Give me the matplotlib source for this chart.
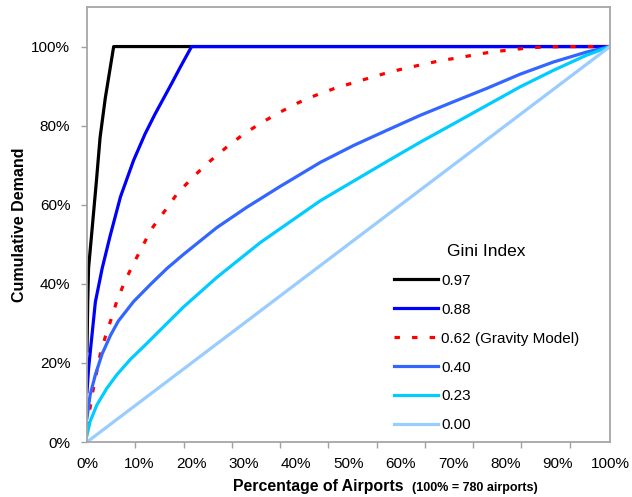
import numpy as np
import matplotlib
matplotlib.use("Agg")
import matplotlib.pyplot as plt

plt.rcParams["font.family"] = ["Liberation Sans", "DejaVu Sans"]

# courbes de Lorenz (% aéroports, % demande cumulée)
x_097 = [0, 0.13, 0.3, 0.85, 1.8, 2.5, 3.5, 5.1, 100]
y_097 = [23, 35, 44, 52, 66, 77, 87, 100, 100]

x_088 = [0, 0.3, 0.95, 1.6, 2.9, 4.4, 6.4, 8.9, 11.1, 13, 14.6, 16.2, 17.8, 20, 100]
y_088 = [12.7, 18.6, 27, 35.4, 43.9, 52, 62, 71.2, 77.9, 82.9, 86.8, 90.7, 94.7, 100, 100]

x_062 = [0, 0.5, 1.1, 2.5, 3.5, 4.6, 5.7, 7.1, 8.7, 10.5, 12.3, 14.8, 17.3,
         20.5, 23.5, 27, 30.2, 33.7, 36.9, 40.4, 43.6, 47.1, 50.8, 54.1,
         57.5, 60.8, 64.3, 67.8, 71.3, 74.4, 77.8, 81.3, 84.7, 88.1, 91.4, 100]
y_062 = [3.8, 8, 12.7, 22, 26.6, 31, 35.6, 40.2, 44.6, 49.2, 53.8, 58.3, 62.9,
         67.3, 71, 74.9, 78.1, 81, 83.4, 85.8, 87.6, 89.3, 90.8, 92.1,
         93.4, 94.5, 95.5, 96.5, 97.2, 98, 98.7, 99.2, 99.7, 99.9, 100, 100]

x_040 = [0, 0.6, 1.6, 2.9, 4.5, 6, 8.9, 12.1, 15.3, 18.5, 24.8, 30.6, 36.9,
         44.6, 51, 57.3, 63.7, 70, 76.4, 82.8, 89.2, 95.5, 100]
y_040 = [6.1, 11.9, 17, 22.3, 27, 30.6, 35.5, 39.8, 43.9, 47.5, 54.2, 59.4, 64.6,
         70.7, 75, 78.8, 82.6, 86, 89.4, 93, 96.1, 98.6, 100]

x_023 = [0, 0.6, 1.9, 3.8, 5.7, 8.3, 11.5, 14, 18.5, 24.8, 33.1, 44.6,
         51, 57.3, 63.7, 70, 76.4, 82.8, 89.2, 95.5, 100]
y_023 = [1.7, 5.2, 9.4, 13.6, 17, 20.9, 25, 28.3, 34.2, 41.6, 50.4, 61,
         66, 70.9, 75.8, 80.4, 85.1, 89.8, 94, 97.8, 100]

x_000 = [0, 50, 100]
y_000 = [0, 50, 100]

labels = ["0.97", "0.88", "0.62 (Gravity Model)", "0.40", "0.23", "0.00"]
x_labels = [f"{v}%" for v in range(0, 101, 10)]
y_labels = [f"{v}%" for v in range(0, 101, 20)]

fig = plt.figure(figsize=(6.32, 4.97), dpi=100)
ax = fig.add_axes([87 / 632, 1 - 442 / 497, 523 / 632, 435 / 497])

lw = 2.3
ax.plot(x_097, y_097, color="black", lw=lw, label=labels[0])
ax.plot(x_088, y_088, color="#0000FF", lw=lw, label=labels[1])
ax.plot(x_062, y_062, color="#FF0000", lw=lw, dashes=(1.7, 3.8), label=labels[2])
ax.plot(x_040, y_040, color="#3366FF", lw=lw, label=labels[3])
ax.plot(x_023, y_023, color="#00CCFF", lw=lw, label=labels[4])
ax.plot(x_000, y_000, color="#99CCFF", lw=lw, label=labels[5])

ax.set_xlim(0, 100)
ax.set_ylim(0, 110)

ax.set_xticks(range(0, 101, 10))
ax.set_xticklabels(x_labels)
ax.set_xticks(np.arange(11) * 72 / 780 * 100, minor=True)
ax.tick_params(axis="x", which="major", length=0, pad=11, labelsize=11)
ax.tick_params(axis="x", which="minor", length=4, width=1, color="#a0a0a0", direction="out")

ax.set_yticks(range(0, 101, 20))
ax.set_yticklabels(y_labels)
ax.tick_params(axis="y", length=4, width=1, color="#a0a0a0", direction="out", pad=8, labelsize=11)

for s in ax.spines.values():
    s.set_color("#a6a6a6")
    s.set_linewidth(1.3)

ax.set_ylabel("Cumulative Demand", fontsize=11.5, fontweight="bold", labelpad=3)
fig.text(233 / 632, 1 - 487 / 497, "Percentage of Airports", fontsize=11.4,
         fontweight="bold", va="center", ha="left")
fig.text(412 / 632, 1 - 488 / 497, "(100% = 780 airports)", fontsize=9,
         fontweight="bold", va="center", ha="left")

leg = ax.legend(title="Gini Index", frameon=False, loc="upper left",
                bbox_to_anchor=(386 / 632, 1 - 236 / 497), bbox_transform=fig.transFigure,
                fontsize=11, title_fontsize=12.5, handlelength=2.9,
                handletextpad=0.2, labelspacing=0.98, borderpad=0)

fig.savefig("out.png", dpi=100)
